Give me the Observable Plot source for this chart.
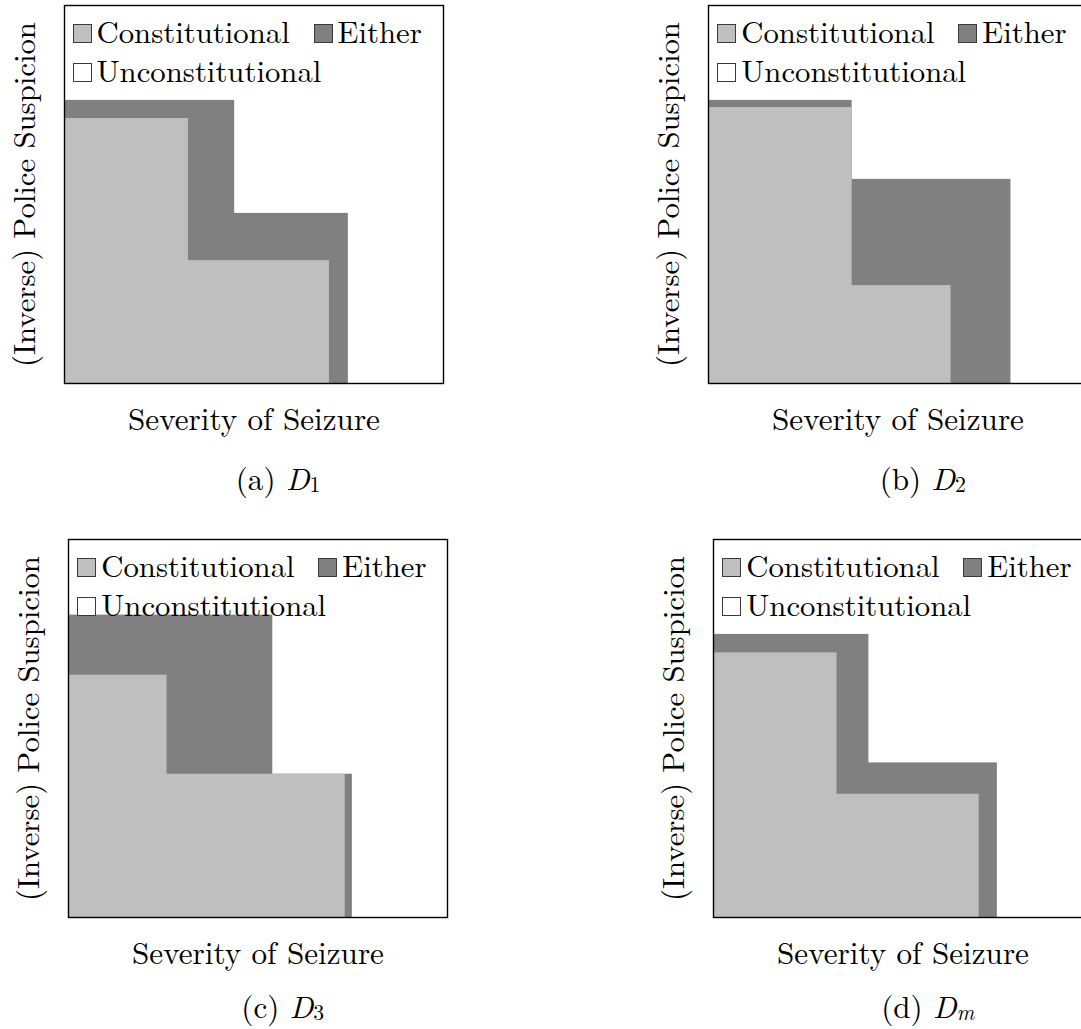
<!DOCTYPE html>
<html><head><meta charset="utf-8">
<script src="https://cdn.jsdelivr.net/npm/d3@7"></script>
<script src="https://cdn.jsdelivr.net/npm/@observablehq/plot@0.6"></script>
<style>
body{margin:0;background:#fff;}
#root{position:relative;width:1081px;height:1029px;overflow:hidden;color:#000;}
.panel{position:absolute;}
.panel svg{display:block;}
.leg{position:absolute;white-space:nowrap;line-height:1;}
.sw{display:inline-block;width:17px;height:17px;border:1px solid #3a3a3a;margin-right:5px;vertical-align:baseline;}
.cap{position:absolute;left:0;white-space:nowrap;line-height:1;}
.cap .sub{position:relative;font-style:normal;line-height:0;}
.strut{display:inline-block;width:0;height:0;vertical-align:baseline;}
</style></head><body><div id="root"></div>
<script>
// ---- data ----
const categories = ["Constitutional", "Either", "Unconstitutional"];
const panelLetters = ["a", "b", "c", "d"];
const panelSubscripts = ["1", "2", "3", "m"];
const xLabel = "Severity of Seizure";
const yLabel = "(Inverse) Police Suspicion";
// staircase regions: each step is a rectangle from the origin to (x, y), axes 0..1
const constitutionalA = [{x: 0.327, y: 0.701}, {x: 0.699, y: 0.325}];
const eitherA         = [{x: 0.449, y: 0.749}, {x: 0.749, y: 0.450}];
const constitutionalB = [{x: 0.379, y: 0.730}, {x: 0.640, y: 0.259}];
const eitherB         = [{x: 0.379, y: 0.749}, {x: 0.798, y: 0.540}];
const constitutionalC = [{x: 0.260, y: 0.641}, {x: 0.730, y: 0.379}];
const eitherC         = [{x: 0.539, y: 0.800}, {x: 0.749, y: 0.379}];
const constitutionalD = [{x: 0.326, y: 0.700}, {x: 0.701, y: 0.326}];
const eitherD         = [{x: 0.410, y: 0.749}, {x: 0.749, y: 0.409}];

const constitutionalSets = [constitutionalA, constitutionalB, constitutionalC, constitutionalD];
const eitherSets = [eitherA, eitherB, eitherC, eitherD];

// ---- styles / layout ----
const FONT = '"Latin Modern Roman", "CMU Serif", "Liberation Serif", "DejaVu Serif", "Noto Serif", Tinos, "Times New Roman", "TeX Gyre Termes", "Nimbus Roman", "FreeSerif", Georgia, serif';
const fills = {Constitutional: "#bfbfbf", Either: "#808080", Unconstitutional: "#ffffff"};
const frames = [{left: 63.5, top: 5}, {left: 708.3, top: 5}, {left: 68.3, top: 539.3}, {left: 713.3, top: 539.3}];
const captionBaselines = [489.5, 489.5, 1017.5, 1017.5];
const FW = 379, FH = 378, ML = 64, MR = 3, MT = 5, MB = 115;
const legendSlots = [{col: 9, base: 38}, {col: 250, base: 38}, {col: 9, base: 77}];

// fit font sizes to the widths measured in the reference
const ctx = document.createElement("canvas").getContext("2d");
function fit(text, target) {
  ctx.font = `100px ${FONT}`;
  return 100 * target / ctx.measureText(text).width;
}
const xSize = fit(xLabel, 252);
const ySize = fit(yLabel, 345);
const legSize = fit("Unconstitutional", 225);
const capSize = xSize;

const root = document.getElementById("root");
root.style.fontFamily = FONT;

// place an absolutely positioned html block so that its text baseline sits at y
function placeBaseline(el, marker, y) {
  el.style.top = "0px";
  const off = marker.getBoundingClientRect().bottom - el.getBoundingClientRect().top;
  el.style.top = (y - off) + "px";
}

panelLetters.forEach((letter, i) => {
  const f = frames[i];
  const plot = Plot.plot({
    width: ML + FW + MR,
    height: MT + FH + MB,
    marginLeft: ML, marginRight: MR, marginTop: MT, marginBottom: MB,
    x: {domain: [0, 1], axis: null},
    y: {domain: [0, 1], axis: null},
    style: {fontFamily: FONT, background: "transparent", color: "black"},
    marks: [
      Plot.rect(eitherSets[i], {x1: 0, x2: "x", y1: 0, y2: "y", fill: fills.Either}),
      Plot.rect(constitutionalSets[i], {x1: 0, x2: "x", y1: 0, y2: "y", fill: fills.Constitutional}),
      Plot.frame({stroke: "black", strokeWidth: 1.4}),
      Plot.text([xLabel], {text: d => d, frameAnchor: "bottom", textAnchor: "middle", lineAnchor: "middle", dy: 46 - 0.32 * xSize, fontSize: xSize, fill: "black"}),
      Plot.text([yLabel], {text: d => d, frameAnchor: "left", textAnchor: "middle", lineAnchor: "middle", rotate: -90, dx: -30 - 0.32 * ySize, fontSize: ySize, fill: "black"})
    ]
  });
  const div = document.createElement("div");
  div.className = "panel";
  div.style.left = (f.left - ML) + "px";
  div.style.top = (f.top - MT) + "px";
  div.style.width = (ML + FW + MR) + "px";
  div.style.height = (MT + FH + MB) + "px";
  div.appendChild(plot);
  root.appendChild(div);
  categories.forEach((cat, k) => {
    const s = legendSlots[k];
    const item = document.createElement("div");
    item.className = "leg";
    item.style.fontSize = legSize + "px";
    item.style.left = (ML + s.col) + "px";
    const sw = document.createElement("span");
    sw.className = "sw";
    sw.style.background = fills[cat];
    item.appendChild(sw);
    item.appendChild(document.createTextNode(cat));
    div.appendChild(item);
    placeBaseline(item, sw, MT + s.base);
  });

  const cap = document.createElement("div");
  cap.className = "cap";
  root.appendChild(cap);
  const subText = panelSubscripts[i] === "m" ? "<i>m</i>" : panelSubscripts[i];
  cap.style.fontSize = capSize + "px";
  cap.innerHTML = `<span class="strut"></span>(${letter}) <i>D</i><span class="sub" style="font-size:${0.7 * capSize}px;top:${0.085 * capSize}px">${subText}</span>`;
  const w = cap.getBoundingClientRect().width;
  cap.style.left = (f.left + FW / 2 + 25 - w / 2) + "px";
  placeBaseline(cap, cap.querySelector(".strut"), captionBaselines[i]);
});
</script></body></html>
